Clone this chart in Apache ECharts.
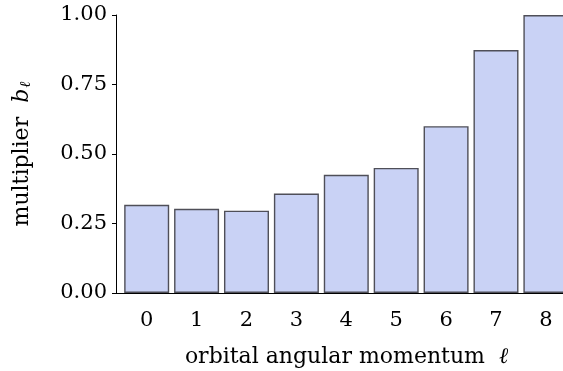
<!DOCTYPE html>
<html>
<head>
<meta charset="utf-8">
<script src="https://cdn.jsdelivr.net/npm/echarts@6/dist/echarts.min.js"></script>
<style>
  html, body { margin: 0; padding: 0; background: #fff; }
  #chart { width: 563px; height: 371px; }
</style>
</head>
<body>
<div id="chart"></div>
<script>
// orbital angular momentum quantum numbers
const ells = [0, 1, 2, 3, 4, 5, 6, 7, 8];
// multiplier b_l for each l
const multipliers = [0.317, 0.303, 0.296, 0.358, 0.425, 0.450, 0.600, 0.874, 1.000];
// y-axis tick values
const yTicks = [0, 0.25, 0.5, 0.75, 1.0];

const FONT = 'DejaVu Serif';
const chart = echarts.init(document.getElementById('chart'), null, { renderer: 'canvas' });

chart.setOption({
  animation: false,
  backgroundColor: '#ffffff',
  grid: { left: 116, top: 15, bottom: 78, right: 0, containLabel: false, outerBoundsMode: 'none' },
  xAxis: {
    type: 'value',
    min: -0.615,
    max: 8.343,
    name: 'orbital angular momentum  {i|ℓ}',
    nameLocation: 'middle',
    nameGap: 53,
    nameTextStyle: {
      fontFamily: FONT, fontSize: 22, color: '#000',
      padding: [0, 0, 0, 14],
      rich: { i: { fontFamily: FONT, fontStyle: 'italic', fontSize: 22, color: '#000' } }
    },
    axisLine: { show: true, onZero: false, lineStyle: { color: '#000', width: 1 } },
    axisTick: { show: false },
    splitLine: { show: false },
    axisLabel: {
      customValues: ells,
      margin: 17,
      fontFamily: FONT, fontSize: 21, color: '#000',
      formatter: v => String(Math.round(v))
    }
  },
  yAxis: {
    type: 'value',
    min: yTicks[0],
    max: yTicks[yTicks.length - 1],
    interval: 0.25,
    name: 'multiplier  {i|b}{s|ℓ}',
    nameLocation: 'middle',
    nameGap: 82,
    nameTextStyle: {
      fontFamily: FONT, fontSize: 22, color: '#000',
      rich: {
        i: { fontFamily: FONT, fontStyle: 'italic', fontSize: 22, color: '#000' },
        s: { fontFamily: FONT, fontStyle: 'italic', fontSize: 15, color: '#000', padding: [9, 0, 0, 1] }
      }
    },
    axisLine: { show: true, onZero: false, lineStyle: { color: '#000', width: 1 } },
    axisTick: { show: true, length: 4, lineStyle: { color: '#000', width: 1 } },
    splitLine: { show: false },
    axisLabel: {
      margin: 9,
      fontFamily: FONT, fontSize: 21, color: '#000',
      formatter: v => v.toFixed(2)
    }
  },
  series: [{
    type: 'bar',
    data: ells.map((l, i) => [l, multipliers[i]]),
    barWidth: 45,
    itemStyle: { color: '#c9d2f5', borderColor: '#4f4f58', borderWidth: 1.4 },
    emphasis: { disabled: true }
  }]
});
</script>
</body>
</html>
